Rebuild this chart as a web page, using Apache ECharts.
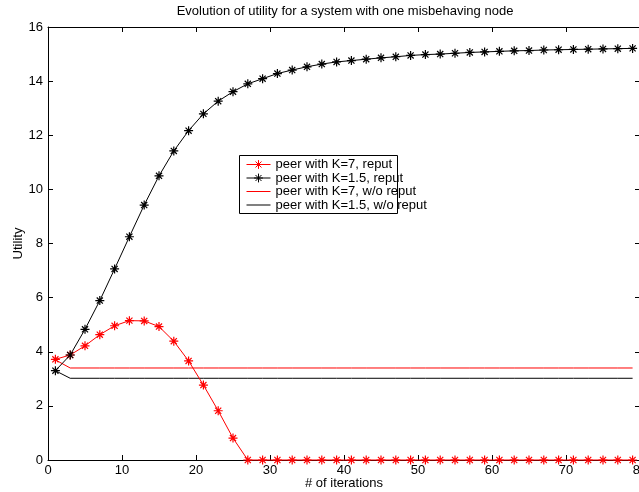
<!DOCTYPE html>
<html>
<head>
<meta charset="utf-8">
<script src="https://cdn.jsdelivr.net/npm/echarts@6/dist/echarts.min.js"></script>
<style>
  html, body { margin: 0; padding: 0; background: #fff; }
  #chart { width: 639px; height: 492px; }
</style>
</head>
<body>
<div id="chart"></div>
<script>
// Iteration numbers at which utility was sampled
const iterations = [1,3,5,7,9,11,13,15,17,19,21,23,25,27,29,31,33,35,37,39,
                    41,43,45,47,49,51,53,55,57,59,61,63,65,67,69,71,73,75,77,79];

// Peer with K=7, with reputation
const k7Reput = [3.72,3.88,4.22,4.63,4.96,5.15,5.14,4.93,4.39,3.66,
                 2.77,1.82,0.81,0,0,0,0,0,0,0,
                 0,0,0,0,0,0,0,0,0,0,
                 0,0,0,0,0,0,0,0,0,0];

// Peer with K=1.5, with reputation
const k15Reput = [3.30,3.88,4.83,5.89,7.06,8.25,9.42,10.50,11.42,12.17,
                  12.79,13.26,13.61,13.90,14.09,14.28,14.41,14.53,14.63,14.71,
                  14.76,14.81,14.86,14.90,14.95,14.98,15.00,15.03,15.06,15.08,
                  15.10,15.12,15.13,15.15,15.16,15.17,15.18,15.19,15.20,15.21];

// Peer with K=7, without reputation
const k7NoReput = [3.70,3.40,3.40,3.40,3.40,3.40,3.40,3.40,3.40,3.40,
                   3.40,3.40,3.40,3.40,3.40,3.40,3.40,3.40,3.40,3.40,
                   3.40,3.40,3.40,3.40,3.40,3.40,3.40,3.40,3.40,3.40,
                   3.40,3.40,3.40,3.40,3.40,3.40,3.40,3.40,3.40,3.40];

// Peer with K=1.5, without reputation
const k15NoReput = [3.30,3.02,3.02,3.02,3.02,3.02,3.02,3.02,3.02,3.02,
                    3.02,3.02,3.02,3.02,3.02,3.02,3.02,3.02,3.02,3.02,
                    3.02,3.02,3.02,3.02,3.02,3.02,3.02,3.02,3.02,3.02,
                    3.02,3.02,3.02,3.02,3.02,3.02,3.02,3.02,3.02,3.02];

const seriesNames = [
  'peer with K=7, reput',
  'peer with K=1.5, reput',
  'peer with K=7, w/o reput',
  'peer with K=1.5, w/o reput'
];

const xTicks = { min: 0, max: 80, step: 10 };
const yTicks = { min: 0, max: 16, step: 2 };

const pair = vals => iterations.map((x, i) => [x, vals[i]]);

// Asterisk marker: a plus overlaid with a cross, drawn as strokes
const asterisk = 'path://M5,0L5,10M0,5L10,5M1.6,1.6L8.4,8.4M1.6,8.4L8.4,1.6';
// Plain line sample for the legend entries without markers
const lineIcon = 'path://M0,0L24,0L24,1L0,1Z';

const font = '"Liberation Sans", Arial, Helvetica, sans-serif';
const fs = 13;
const black = '#000000';
const red = '#ff0000';

const baseAxis = {
  axisLine: { show: true, onZero: false, lineStyle: { color: black, width: 1 } },
  axisTick: { show: true, inside: true, length: 5, lineStyle: { color: black } },
  splitLine: { show: false }
};

const chart = echarts.init(document.getElementById('chart'), null, { renderer: 'canvas' });

chart.setOption({
  backgroundColor: '#ffffff',
  animation: false,
  textStyle: { fontFamily: font },
  title: {
    text: 'Evolution of utility for a system with one misbehaving node',
    left: 345, top: 5, textAlign: 'center', padding: 0,
    textStyle: { fontFamily: font, fontSize: fs, fontWeight: 'normal', color: black }
  },
  grid: {
    left: 48, top: 27, width: 592, height: 433,
    containLabel: false, outerBoundsMode: 'none'
  },
  // Fixed-size legend frame; the longer labels run past its right edge
  graphic: [{
    type: 'rect', z: 3,
    shape: { x: 239.5, y: 155.5, width: 158, height: 58 },
    style: { fill: '#ffffff', stroke: black, lineWidth: 1 }
  }],
  legend: {
    orient: 'vertical',
    left: 239, top: 155, z: 5,
    padding: [3, 1, 2, 7],
    itemGap: 0.5,
    itemWidth: 24, itemHeight: 11,
    borderWidth: 0,
    lineStyle: { width: 1 },
    itemStyle: { borderWidth: 1 },
    textStyle: { fontFamily: font, fontSize: fs, lineHeight: 13, color: black },
    data: [
      { name: seriesNames[0] },
      { name: seriesNames[1] },
      { name: seriesNames[2], icon: lineIcon },
      { name: seriesNames[3], icon: lineIcon }
    ]
  },
  xAxis: [
    Object.assign({}, baseAxis, {
      type: 'value', position: 'bottom',
      min: xTicks.min, max: xTicks.max, interval: xTicks.step,
      name: '# of iterations', nameLocation: 'middle', nameGap: 17, nameMoveOverlap: false,
      nameTextStyle: { fontFamily: font, fontSize: fs, color: black },
      axisLabel: { fontFamily: font, fontSize: fs, color: black, margin: 4 }
    }),
    Object.assign({}, baseAxis, {
      type: 'value', position: 'top',
      min: xTicks.min, max: xTicks.max, interval: xTicks.step,
      axisLabel: { show: false }
    })
  ],
  yAxis: [
    Object.assign({}, baseAxis, {
      type: 'value', position: 'left',
      min: yTicks.min, max: yTicks.max, interval: yTicks.step,
      name: 'Utility', nameLocation: 'middle', nameGap: 23, nameMoveOverlap: false,
      nameTextStyle: { fontFamily: font, fontSize: fs, color: black },
      axisLabel: { fontFamily: font, fontSize: fs, color: black, margin: 5 }
    }),
    Object.assign({}, baseAxis, {
      type: 'value', position: 'right',
      min: yTicks.min, max: yTicks.max, interval: yTicks.step,
      axisLabel: { show: false }
    })
  ],
  series: [
    {
      name: seriesNames[0], type: 'line', data: pair(k7Reput),
      symbol: asterisk, symbolSize: 9, showAllSymbol: true, clip: false,
      lineStyle: { color: red, width: 1 },
      itemStyle: { color: red, borderColor: red, borderWidth: 1.2 },
      z: 2
    },
    {
      name: seriesNames[1], type: 'line', data: pair(k15Reput),
      symbol: asterisk, symbolSize: 9, showAllSymbol: true, clip: false,
      lineStyle: { color: black, width: 1 },
      itemStyle: { color: black, borderColor: black, borderWidth: 1.2 },
      z: 2
    },
    {
      name: seriesNames[2], type: 'line', data: pair(k7NoReput),
      symbol: 'none', clip: false,
      lineStyle: { color: red, width: 1 },
      itemStyle: { color: red },
      z: 1
    },
    {
      name: seriesNames[3], type: 'line', data: pair(k15NoReput),
      symbol: 'none', clip: false,
      lineStyle: { color: black, width: 1 },
      itemStyle: { color: black },
      z: 1
    }
  ]
});
</script>
</body>
</html>
